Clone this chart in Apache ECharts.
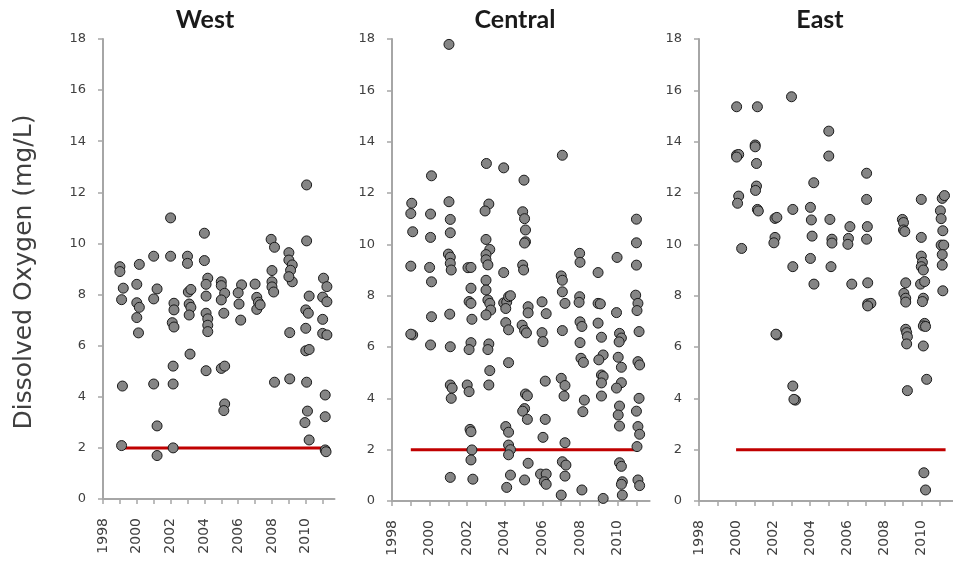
<!DOCTYPE html>
<html>
<head>
<meta charset="utf-8">
<script src="https://cdn.jsdelivr.net/npm/echarts@6/dist/echarts.min.js"></script>
<style>
html,body{margin:0;padding:0;background:#fff;}
#chart{width:953px;height:566px;}
</style>
</head>
<body>
<div id="chart"></div>
<script>
// ---- Data (decimal sampling year, dissolved oxygen mg/L) ----
var panelNames = ['West', 'Central', 'East'];
var yTitle = 'Dissolved Oxygen (mg/L)';
var xTickLabels = [1998, 2000, 2002, 2004, 2006, 2008, 2010];
var xMinorTicks = [1998, 1999, 2000, 2001, 2002, 2003, 2004, 2005, 2006, 2007, 2008, 2009, 2010, 2011];
var yTickLabels = [0, 2, 4, 6, 8, 10, 12, 14, 16, 18];
var threshold = 2;

var westYear = [
 1999.0,1999.0,1999.2,1999.1,1999.15,1999.1,
 2000.15,2000.0,2000.0,2000.15,2000.0,2000.1,
 2001.0,2001.2,2001.0,2001.0,2001.2,2001.2,
 2002.0,2002.0,2002.2,2002.2,2002.1,2002.2,2002.15,2002.15,2002.15,
 2003.0,2003.0,2003.05,2003.2,2003.1,2003.2,2003.1,2003.15,
 2004.0,2004.0,2004.2,2004.1,2004.1,2004.1,2004.2,2004.2,2004.2,2004.1,
 2005.0,2005.0,2005.2,2005.0,2005.15,2005.0,2005.2,2005.2,2005.15,
 2006.2,2006.0,2006.05,2006.15,
 2007.0,2007.1,2007.2,2007.1,2007.3,
 2007.95,2008.15,2008.0,2008.0,2008.0,2008.1,2008.15,
 2009.0,2009.0,2009.2,2009.1,2009.2,2009.0,2009.05,2009.05,
 2010.05,2010.05,2010.2,2010.0,2010.15,2010.0,2010.0,2010.2,2010.05,2010.1,2009.95,2010.2,
 2011.05,2011.25,2011.0,2011.25,2011.0,2011.0,2011.25,2011.15,2011.15,2011.15,2011.2
];
var westDO = [
 9.09,8.9,8.25,7.8,4.42,2.09,
 9.18,8.4,7.68,7.5,7.1,6.5,
 9.5,8.22,7.83,4.5,2.86,1.7,
 11.0,9.5,7.66,7.4,6.9,6.73,5.2,4.5,2.0,
 9.5,9.22,8.1,8.2,7.63,7.5,7.2,5.67,
 10.4,9.33,8.64,8.4,7.94,7.27,7.05,6.8,6.55,5.02,
 8.5,8.35,8.05,7.79,7.27,5.11,5.2,3.72,3.46,
 8.38,8.07,7.63,7.0,
 8.41,7.89,7.7,7.42,7.6,
 10.16,9.85,8.94,8.5,8.3,8.1,4.57,
 9.64,9.35,9.16,8.95,8.5,8.7,6.51,4.7,
 12.29,10.1,7.94,7.4,7.27,6.68,5.8,5.85,4.57,3.44,2.99,2.31,
 8.64,8.31,7.9,7.72,7.03,6.48,6.42,4.07,3.22,1.92,1.85
];

var centralYear = [
 1999.05,1999.0,1999.1,1999.0,1999.1,1999.0,
 2000.1,2000.05,2000.05,2000.0,2000.1,2000.1,2000.05,
 2001.03,2001.03,2001.1,2001.1,2001.0,2001.1,2001.1,2001.15,2001.07,2001.1,2001.1,2001.2,2001.15,2001.1,
 2002.04,2002.2,2002.2,2002.1,2002.2,2002.25,2002.2,2002.1,2002.0,2002.1,2002.15,2002.2,2002.25,2002.2,2002.3,
 2003.02,2003.15,2002.95,2003.0,2003.2,2003.0,2003.0,2003.1,2003.0,2003.0,2003.1,2003.2,2003.25,2003.0,2003.15,2003.1,2003.2,2003.15,
 2003.94,2003.94,2003.94,2004.1,2004.2,2004.3,2004.05,2004.05,2004.2,2004.2,2004.05,2004.2,2004.2,2004.3,2004.2,2004.3,2004.1,
 2005.02,2004.95,2005.05,2005.1,2005.1,2005.05,2004.95,2005.0,2005.24,2005.24,2004.92,2005.05,2005.15,2005.1,2005.2,2005.05,2004.95,2005.2,2005.24,2005.05,
 2005.98,2006.2,2005.98,2006.03,2006.15,2006.15,2006.03,2005.9,2006.2,2006.1,2006.2,
 2007.06,2007.0,2007.06,2007.06,2007.2,2007.06,2007.0,2007.2,2007.15,2007.2,2007.06,2007.25,2007.2,2007.0,
 2007.98,2008.0,2007.98,2007.95,2008.0,2008.1,2008.0,2008.05,2008.18,2008.23,2008.15,2008.1,
 2008.96,2008.96,2009.08,2008.96,2009.14,2009.23,2009.0,2009.14,2009.23,2009.14,2009.14,2009.23,
 2009.97,2009.94,2010.1,2010.2,2010.08,2010.03,2010.2,2010.2,2009.94,2010.1,2010.03,2010.1,2010.1,2010.2,2010.25,2010.2,2010.25,
 2011.0,2011.0,2011.0,2010.96,2011.08,2011.03,2011.14,2011.08,2011.17,2011.14,2011.0,2011.08,2011.17,2011.03,2011.08,2011.17
];
var centralDO = [
 11.6,11.2,10.49,9.15,6.47,6.5,
 12.67,11.18,10.27,9.1,8.54,7.18,6.08,
 17.79,11.66,10.97,10.45,9.62,9.5,9.26,9.0,7.28,6.01,4.52,4.4,4.0,0.92,
 9.09,9.1,8.29,7.77,7.7,7.08,6.17,5.9,4.52,4.26,2.79,2.7,1.99,1.6,0.85,
 13.15,11.57,11.3,10.19,9.8,9.6,9.4,9.2,8.6,8.22,7.83,7.7,7.44,7.25,6.12,5.9,5.08,4.52,
 12.98,8.9,7.72,7.75,7.96,8.0,7.5,6.95,6.67,5.39,2.9,2.68,2.18,2.0,1.8,1.01,0.53,
 12.5,11.27,11.0,10.56,10.1,10.05,9.19,9.0,7.57,7.33,6.85,6.65,6.55,4.17,4.1,3.6,3.5,3.18,1.47,0.82,
 7.76,7.3,6.56,6.21,4.67,3.18,2.48,1.05,1.05,0.75,0.65,
 13.47,8.77,8.6,8.15,7.7,6.64,4.78,4.5,4.09,2.27,1.53,1.4,0.97,0.23,
 9.65,9.3,7.96,7.74,6.98,6.8,6.17,5.56,5.4,3.93,3.48,0.43,
 8.9,7.7,7.68,6.93,6.38,5.69,5.5,4.91,4.85,4.6,4.09,0.1,
 9.49,7.34,6.53,6.35,6.2,5.6,5.21,4.61,4.4,3.7,3.35,2.92,1.49,1.35,0.75,0.65,0.23,
 10.98,10.06,9.19,8.02,7.7,7.42,6.6,5.43,5.3,4.0,3.5,2.9,2.6,2.12,0.82,0.6
];

var eastYear = [
 2000.03,2000.03,2000.14,2000.03,2000.14,2000.08,2000.3,
 2001.15,2001.03,2001.03,2001.1,2001.1,2001.05,2001.15,2001.2,
 2002.1,2002.2,2002.1,2002.04,2002.2,2002.15,
 2002.99,2003.06,2003.06,2003.06,2003.2,2003.12,
 2004.19,2004.01,2004.06,2004.1,2004.01,2004.2,
 2005.0,2005.0,2005.06,2005.17,2005.17,2005.12,
 2006.14,2006.06,2006.03,2006.24,
 2007.04,2007.04,2007.08,2007.04,2007.1,2007.1,2007.27,2007.1,
 2008.97,2009.03,2009.03,2009.1,2009.15,2009.05,2009.15,2009.15,2009.15,2009.2,2009.24,2009.2,2009.24,
 2009.99,2009.99,2009.99,2010.05,2009.99,2010.1,2009.95,2010.17,2010.1,2010.05,2010.17,2010.1,2010.22,2010.1,2010.28,2010.13,2010.22,
 2011.12,2011.24,2011.02,2011.06,2011.15,2011.06,2011.2,2011.12,2011.12,2011.15
];
var eastDO = [
 15.36,13.48,13.5,13.4,11.88,11.6,9.84,
 15.36,13.87,13.8,13.15,12.27,12.1,11.36,11.3,
 11.01,11.05,10.27,10.06,6.47,6.5,
 15.75,11.36,9.13,4.48,3.93,3.96,
 12.4,11.44,10.95,10.32,9.45,8.45,
 14.41,13.44,10.97,10.2,10.05,9.13,
 10.69,10.23,10.0,8.45,
 12.77,11.75,10.69,10.2,8.5,7.68,7.7,7.6,
 10.97,10.85,10.56,10.5,8.5,8.09,7.9,7.75,6.69,6.56,6.4,6.12,4.3,
 11.75,10.27,9.54,9.3,9.13,9.0,8.45,8.55,7.9,7.77,6.92,6.82,6.8,6.04,4.74,1.1,0.43,
 11.79,11.9,11.31,11.0,10.53,9.97,9.97,9.6,9.19,8.19
];

// threshold line extents (first / last sampling year)
var westLineYears = [1999.1, 2011.1];
var centralLineYears = [1999.0, 2010.9];
var eastLineYears = [2000.0, 2011.3];

// ---- Build chart ----
function zip(xs, ys) { return xs.map(function (x, i) { return [x, ys[i]]; }); }

var grids = [
  {left: 103, top: 39, width: 231.5, height: 460},
  {left: 392, top: 39, width: 257.6, height: 462},
  {left: 699, top: 39, width: 256.6, height: 462}
];
var titleX = [205, 515, 820];
var panelYears = [westYear, centralYear, eastYear];
var panelDO = [westDO, centralDO, eastDO];
var lineYears = [westLineYears, centralLineYears, eastLineYears];

var axisColor = '#a6a6a6';
var labelColor = '#404040';

var xAxes = [], yAxes = [], series = [], graphics = [];
for (var i = 0; i < 3; i++) {
  xAxes.push({
    type: 'value', gridIndex: i, min: 1998, max: 2011.7,
    splitLine: {show: false},
    axisLine: {lineStyle: {color: axisColor, width: 2}},
    axisTick: {customValues: xMinorTicks, length: 5, lineStyle: {color: axisColor, width: 1.5}},
    axisLabel: {customValues: xTickLabels, rotate: 90, margin: 19, fontSize: 14,
      fontFamily: 'DejaVu Sans', color: labelColor, formatter: function (v) { return String(v); }}
  });
  yAxes.push({
    type: 'value', gridIndex: i, min: 0, max: 18, interval: 2,
    splitLine: {show: false},
    axisLine: {show: true, lineStyle: {color: axisColor, width: 2}},
    axisTick: {show: true, length: 5, lineStyle: {color: axisColor, width: 1.5}},
    axisLabel: {customValues: yTickLabels, margin: 17, fontSize: 13, fontFamily: 'DejaVu Sans', color: labelColor}
  });
  series.push({
    type: 'line', xAxisIndex: i, yAxisIndex: i, z: 1,
    data: [[lineYears[i][0], threshold], [lineYears[i][1], threshold]],
    symbol: 'none', silent: true,
    lineStyle: {color: '#c00000', width: 3}
  });
  series.push({
    type: 'scatter', xAxisIndex: i, yAxisIndex: i, z: 2,
    data: zip(panelYears[i], panelDO[i]),
    symbol: 'circle', symbolSize: 10,
    itemStyle: {color: '#858585', borderColor: '#1a1a1a', borderWidth: 1, opacity: 1}
  });
  graphics.push({
    type: 'text', x: titleX[i], y: 20,
    style: {text: panelNames[i], font: 'bold 25px Lato', fill: '#1a1a1a', align: 'center', verticalAlign: 'middle'}
  });
}
graphics.push({
  type: 'text', x: 24, y: 272, rotation: Math.PI / 2,
  style: {text: yTitle, font: '25px "DejaVu Sans"', fill: '#404040', align: 'center', verticalAlign: 'middle'}
});

var chart = echarts.init(document.getElementById('chart'), null, {renderer: 'canvas'});
chart.setOption({
  animation: false,
  backgroundColor: '#ffffff',
  grid: grids,
  xAxis: xAxes,
  yAxis: yAxes,
  series: series,
  graphic: graphics
});
</script>
</body>
</html>
